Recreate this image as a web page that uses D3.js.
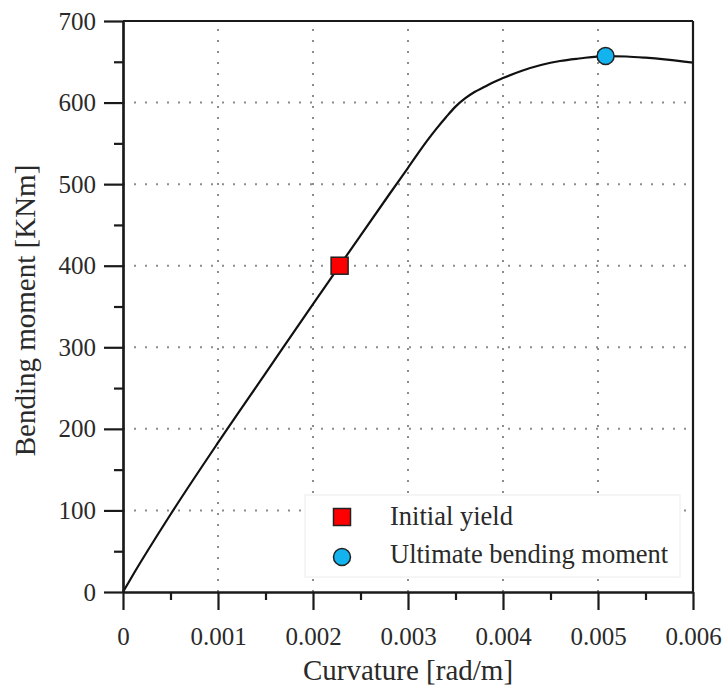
<!DOCTYPE html>
<html>
<head>
<meta charset="utf-8">
<script src="https://cdn.jsdelivr.net/npm/d3@7"></script>
<style>
  html, body { margin: 0; padding: 0; background: #fff; }
  svg { display: block; }
  text { font-family: "Liberation Serif", "Times New Roman", serif; fill: #2a2a2a; }
</style>
</head>
<body>
<svg id="chart" width="726" height="689"></svg>
<script>
// Moment–curvature response of the section
const curvature = [0, 0.0001, 0.0005, 0.001, 0.0015, 0.002, 0.00228, 0.0025, 0.0028, 0.003,
                   0.0032, 0.0033, 0.0034, 0.0035, 0.0036, 0.0037, 0.0038, 0.0039, 0.004,
                   0.0042, 0.0044, 0.0046, 0.0048, 0.00508, 0.0053, 0.0055, 0.0057, 0.006];
const moment = [0, 20, 95, 183, 268, 353, 400, 437, 487, 520,
                553, 568, 582, 595, 605, 613, 619, 625, 630,
                639, 646, 651, 654, 657, 656.5, 655, 653, 649];

// Characteristic points
const yieldPoint = { curvature: 0.00228, moment: 400 };
const ultimatePoint = { curvature: 0.00508, moment: 657 };

const xTicks = [0, 0.001, 0.002, 0.003, 0.004, 0.005, 0.006];
const yTicks = [0, 100, 200, 300, 400, 500, 600, 700];
const xMinorTicks = [0.0005, 0.0015, 0.0025, 0.0035, 0.0045, 0.0055];
const yMinorTicks = [50, 150, 250, 350, 450, 550, 650];

const legendLabels = ["Initial yield", "Ultimate bending moment"];
const xTitle = "Curvature [rad/m]";
const yTitle = "Bending moment [KNm]";

const svg = d3.select("#chart");
const plot = { left: 123, right: 693, top: 21, bottom: 592 };

const x = d3.scaleLinear().domain([0, 0.006]).range([plot.left, plot.right]);
const y = d3.scaleLinear().domain([0, 700]).range([plot.bottom, plot.top]);

// dotted grid at major ticks
const grid = svg.append("g").attr("stroke", "#8c8c8c").attr("stroke-width", 2)
  .attr("stroke-dasharray", "2,9");
grid.selectAll("line.gx").data(xTicks.slice(1, -1)).join("line")
  .attr("x1", d => x(d)).attr("x2", d => x(d))
  .attr("y1", plot.bottom).attr("y2", plot.top);
grid.selectAll("line.gy").data(yTicks.slice(1, -1)).join("line")
  .attr("y1", d => y(d)).attr("y2", d => y(d))
  .attr("x1", plot.left).attr("x2", plot.right);

// curve
const line = d3.line()
  .x((d, i) => x(curvature[i]))
  .y(d => y(d))
  .curve(d3.curveMonotoneX);
svg.append("path").datum(moment)
  .attr("d", line)
  .attr("fill", "none")
  .attr("stroke", "#111")
  .attr("stroke-width", 2.2);

// markers
const sq = 17;
svg.append("rect")
  .attr("x", x(yieldPoint.curvature) - sq / 2)
  .attr("y", y(yieldPoint.moment) - sq / 2)
  .attr("width", sq).attr("height", sq)
  .attr("fill", "#ff0000").attr("stroke", "#222").attr("stroke-width", 1.5);
svg.append("circle")
  .attr("cx", x(ultimatePoint.curvature))
  .attr("cy", y(ultimatePoint.moment))
  .attr("r", 8.5)
  .attr("fill", "#12b3ef").attr("stroke", "#222").attr("stroke-width", 1.5);

// legend
const lg = svg.append("g");
lg.append("rect").attr("x", 305).attr("y", 495).attr("width", 375).attr("height", 82)
  .attr("fill", "#fff").attr("stroke", "#ececec").attr("stroke-width", 1);
lg.append("rect").attr("x", 342 - sq / 2).attr("y", 517 - sq / 2).attr("width", sq).attr("height", sq)
  .attr("fill", "#ff0000").attr("stroke", "#222").attr("stroke-width", 1.5);
lg.append("circle").attr("cx", 342).attr("cy", 557).attr("r", 8.5)
  .attr("fill", "#12b3ef").attr("stroke", "#222").attr("stroke-width", 1.5);
lg.selectAll("text").data(legendLabels).join("text")
  .attr("x", 390).attr("y", (d, i) => 525 + i * 38)
  .attr("font-size", 26.5)
  .text(d => d);

// axes
const fmtX = d => d === 0 ? "0" : d3.format(".3f")(d);
const xAxis = svg.append("g").attr("transform", `translate(0,${plot.bottom})`)
  .call(d3.axisBottom(x).tickValues(xTicks).tickFormat(fmtX).tickSize(18).tickPadding(30).tickSizeOuter(0));
const xMinor = svg.append("g").attr("transform", `translate(0,${plot.bottom})`)
  .call(d3.axisBottom(x).tickValues(xMinorTicks).tickFormat("").tickSize(8).tickSizeOuter(0));
const yAxis = svg.append("g").attr("transform", `translate(${plot.left},0)`)
  .call(d3.axisLeft(y).tickValues(yTicks).tickSize(19).tickPadding(8).tickSizeOuter(0));
const yMinor = svg.append("g").attr("transform", `translate(${plot.left},0)`)
  .call(d3.axisLeft(y).tickValues(yMinorTicks).tickFormat("").tickSize(9).tickSizeOuter(0));

[xAxis, xMinor, yAxis, yMinor].forEach(g => {
  g.select(".domain").attr("stroke", "#1a1a1a").attr("stroke-width", 2.2);
  g.selectAll(".tick line").attr("stroke", "#1a1a1a").attr("stroke-width", 2.2);
  g.selectAll(".tick text").attr("font-family", "Liberation Serif, Times New Roman, serif")
    .attr("font-size", 25).attr("fill", "#2a2a2a");
});
xAxis.selectAll(".tick text").attr("dy", "0.2em");

// top and right frame
svg.append("line").attr("x1", plot.left).attr("x2", plot.right)
  .attr("y1", plot.top).attr("y2", plot.top).attr("stroke", "#1a1a1a").attr("stroke-width", 2.2);
svg.append("line").attr("x1", plot.right).attr("x2", plot.right)
  .attr("y1", plot.top).attr("y2", plot.bottom).attr("stroke", "#1a1a1a").attr("stroke-width", 2.2);

// axis titles
svg.append("text").attr("x", (plot.left + plot.right) / 2).attr("y", 680)
  .attr("text-anchor", "middle").attr("font-size", 29).text(xTitle);
svg.append("text").attr("transform", `translate(35,${(plot.top + plot.bottom) / 2 + 4}) rotate(-90)`)
  .attr("text-anchor", "middle").attr("font-size", 29).text(yTitle);
</script>
</body>
</html>
